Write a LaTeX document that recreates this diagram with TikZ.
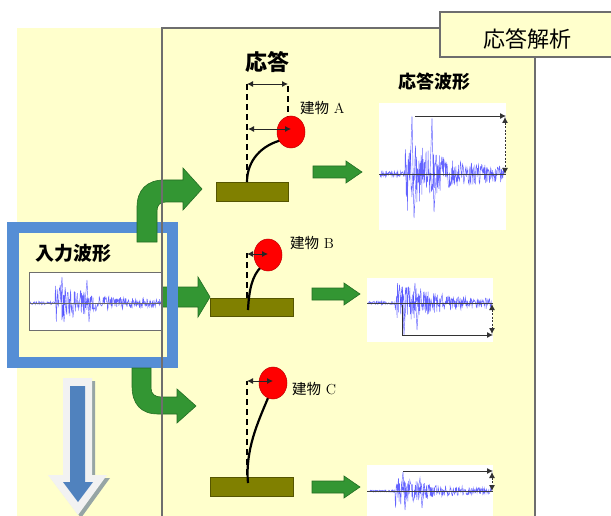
\documentclass[tikz,border=0pt]{standalone}
\usepackage{fontspec}
\newfontfamily\jp{Noto Sans CJK JP}
\usetikzlibrary{arrows.meta,shapes.geometric}
\definecolor{bgy}{RGB}{255,255,204}
\definecolor{boxgray}{RGB}{110,110,110}
\definecolor{frameblue}{RGB}{85,142,213}
\definecolor{grn}{RGB}{51,150,51}
\definecolor{grnd}{RGB}{35,110,35}
\definecolor{olv}{RGB}{128,128,0}
\definecolor{olvd}{RGB}{85,85,0}
\definecolor{balld}{RGB}{190,0,0}
\definecolor{wblue}{RGB}{60,60,255}
\definecolor{arrin}{RGB}{80,130,190}
\definecolor{arrout}{RGB}{242,242,242}
\definecolor{arrsh}{RGB}{150,165,165}
\newcommand{\grarrow}[3]{\filldraw[garrow] (#1,#3-6) -- (#2-16,#3-6) -- (#2-16,#3-11) -- (#2,#3) -- (#2-16,#3+11) -- (#2-16,#3+6) -- (#1,#3+6) -- cycle;}
\newcommand{\wavep}[6]{\pgfmathsetseed{#6}\draw[wavec] plot[domain=#1:#2,samples=300,variable=\t] (\t,{#3-#5*envv(\t,#4)*rand});}
\begin{document}
\begin{tikzpicture}[x=1pt,y=-1pt,
  declare function={envv(\t,\o)=(\t<\o)*0.07+(\t>=\o)*(0.15+0.85*exp(-(\t-\o)/35));},
  garrow/.style={fill=grn,draw=grnd,line width=0.6pt},
  wavec/.style={draw=wblue,line width=0.45pt,opacity=0.8},
  wbox/.style={fill=white,draw=none},
  axisl/.style={draw=black!75,line width=0.8pt},
  base/.style={fill=olv,draw=olvd,line width=0.6pt},
  ball/.style={ellipse,fill=red,draw=balld,line width=0.5pt,minimum width=28pt,minimum height=32pt,inner sep=0pt},
  column/.style={draw=black,line width=2.2pt},
  dashv/.style={draw=black,line width=1.5pt,dash pattern=on 6pt off 4pt},
  dimarr/.style={draw=black!85,line width=0.9pt,{Latex[length=6pt,width=6pt]}-{Latex[length=6pt,width=6pt]}},
  onearr/.style={draw=black!80,line width=0.8pt,-{Latex[length=6pt,width=6pt]}},
  ddarr/.style={draw=black!80,line width=0.8pt,dash pattern=on 2pt off 1.5pt,{Latex[length=6pt,width=6pt]}-{Latex[length=6pt,width=6pt]}},
  lbl/.style={inner sep=0pt,anchor=west,font=\fontsize{14.5}{14.5}\selectfont},
  head/.style={inner sep=0pt,font=\jp\bfseries}
]
\useasboundingbox (0,0) rectangle (611,516);
\fill[white] (0,0) rectangle (611,516);
% backgrounds
\fill[bgy] (17,28) rectangle (162,520);
\fill[bgy] (162,28) rectangle (535,520);
% headings
\node[head,font=\jp\bfseries\fontsize{22}{22}\selectfont] (resp) at (267,62) {応答};
\node[head,font=\jp\bfseries\fontsize{18}{18}\selectfont] (respw) at (434,82) {応答波形};
\node[head,font=\jp\bfseries\fontsize{19}{19}\selectfont] (inw) at (73,253) {入力波形};
% input waveform
\fill[wbox] (29,272) rectangle (162,330);
\draw[boxgray,line width=0.8pt] (162,272) -- (29,272) -- (29,330) -- (162,330);
\wavep{30}{161}{303}{55}{22}{3}
\draw[wavec] (60,303) -- (62,277) -- (64,322) -- (66,300);
\draw[wavec] (85,303) -- (87,280) -- (89,322) -- (91,300);
\draw[axisl,draw=black!60] (29,303) -- (162,303);
% waveform A
\fill[wbox] (379,103) rectangle (506,230);
\wavep{380}{504}{174}{405}{40}{5}
\draw[wavec] (410,174) -- (412,116) -- (414,218) -- (416,180);
\draw[wavec] (430,174) -- (432,118) -- (434,212) -- (436,178);
\draw[axisl] (379,174) -- (506,174);
\draw[onearr] (415,116) -- (506,116);
\draw[ddarr] (505,117) -- (505,174);
% waveform B
\fill[wbox] (367,278) rectangle (493,342);
\wavep{368}{492}{303}{395}{24}{7}
\draw[wavec] (400,303) -- (402,287) -- (404,335) -- (406,300);
\draw[wavec] (413,303) -- (415,283) -- (417,330) -- (419,300);
\draw[axisl] (367,303) -- (493,303);
\draw[onearr] (402,305) -- (402,335) -- (493,335);
\draw[ddarr] (492,304) -- (492,334);
% waveform C
\fill[wbox] (367,465) rectangle (493,520);
\wavep{368}{492}{491}{395}{16}{11}
\draw[wavec] (401,491) -- (403,472) -- (405,510) -- (407,488);
\draw[wavec] (418,491) -- (420,478) -- (422,508) -- (424,489);
\draw[axisl] (367,491) -- (493,491);
\draw[onearr] (403,471) -- (493,471);
\draw[ddarr] (492,472) -- (492,491);
% building A
\draw[dashv] (247,180) -- (247,83);
\draw[dashv] (288,122) -- (288,83);
\draw[dimarr] (247,84) -- (288,84);
\fill[base] (216,182) rectangle (288,201);
\draw[column] (247,182) .. controls (247,160) and (262,145) .. (282,140);
\node[ball] (ballA) at (291,132) {};
\draw[dimarr] (248,129) -- (291,129);
\node[lbl] (lA) at (300,108) {{\jp 建物} A};
% building B
\draw[dashv] (247,298) -- (247,253);
\fill[base] (210,298) rectangle (293,316);
\draw[column] (248,310) .. controls (249,290) and (252,276) .. (261,267);
\node[ball] (ballB) at (268,255) {};
\draw[dimarr] (247,254) -- (268,254);
\node[lbl] (lB) at (290,243) {{\jp 建物} B};
% building C
\draw[dashv] (247,475) -- (247,381);
\fill[base] (210,477) rectangle (293,496);
\draw[column] (248,483) .. controls (245,450) and (258,422) .. (268,398);
\node[ball] (ballC) at (273,383) {};
\draw[dimarr] (247,381) -- (273,381);
\node[lbl] (lC) at (292,389) {{\jp 建物} C};
% small green arrows
\grarrow{313}{362}{172}
\grarrow{312}{360}{294}
\grarrow{312}{360}{487}
% middle big arrow (under blue frame)
\filldraw[garrow] (162.5,287) -- (198,287) -- (198,277) -- (210,297) -- (198,317) -- (198,307) -- (162.5,307) -- cycle;
% blue frame
\draw[frameblue,line width=11.5pt] (12.75,227.75) rectangle (172.25,362.25);
% top curved arrow
\filldraw[garrow] (137,242) -- (137,207) .. controls (137,190) and (147,180) .. (164,180) -- (183,180) -- (183,168) -- (202,189) -- (183,210) -- (183,202) -- (166,202) .. controls (160,202) and (157,205) .. (157,211) -- (157,242) -- cycle;
% bottom curved arrow
\filldraw[garrow] (132,368) -- (132,386) .. controls (132,404) and (141,414) .. (158,414) -- (177,414) -- (177,423) -- (196,406) -- (177,389) -- (177,397) -- (161,397) .. controls (155,397) and (151,394) .. (151,388) -- (151,368) -- cycle;
% down arrow
\fill[arrsh] (66,381) -- (95,381) -- (95,478) -- (110,478) -- (81,518) -- (51,478) -- (66,478) -- cycle;
\fill[arrout] (63,378) -- (92,378) -- (92,475) -- (107,475) -- (78,515) -- (48,475) -- (63,475) -- cycle;
\fill[arrin] (70,386) -- (85,386) -- (85,482) -- (93,482) -- (78,502) -- (63,482) -- (70,482) -- cycle;
% main box border
\draw[boxgray,line width=1.5pt] (162,520) -- (162,28) -- (535,28) -- (535,520);
% title box
\filldraw[fill=bgy,draw=boxgray,line width=1.5pt] (440,12) rectangle (620,57);
\node[inner sep=0pt,font=\jp\fontsize{22}{22}\selectfont] (title) at (527,39) {応答解析};
\end{tikzpicture}
\end{document}
